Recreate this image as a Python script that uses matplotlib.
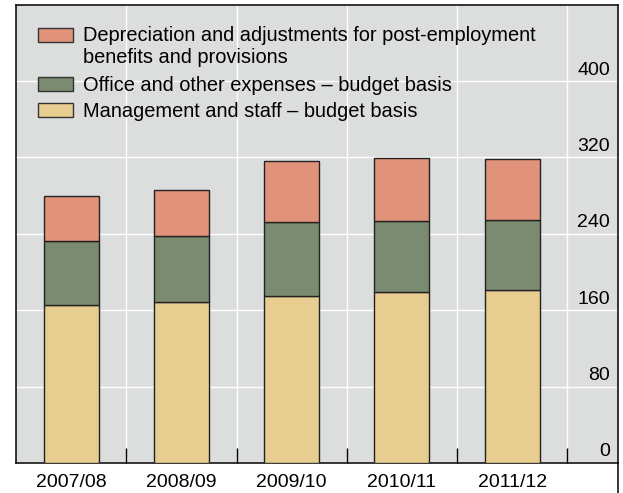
import matplotlib
matplotlib.use("Agg")
import numpy as np
import matplotlib.pyplot as plt
from matplotlib.patches import Rectangle
from matplotlib.lines import Line2D
from matplotlib.transforms import offset_copy

plt.rcParams['font.family'] = ['Liberation Sans', 'DejaVu Sans']

#
# data
#
years = ['2007/08', '2008/09', '2009/10', '2010/11', '2011/12']
staff = [165, 168.5, 175, 179, 181]
office = [67.5, 69, 77.5, 74.5, 73.5]
deprec = [47, 48.5, 64, 66, 64]

labels = ['Depreciation and adjustments for post-employment\nbenefits and provisions',
          'Office and other expenses \u2013 budget basis',
          'Management and staff \u2013 budget basis']
colors = ['#e0937a', '#7b8b71', '#e8cd91']

yticks = [0, 80, 160, 240, 320, 400]

bg = '#dcdede'
fs = 14

fig = plt.figure(figsize=(6.23, 4.93), dpi=100)
ax = fig.add_axes([16/623, 30/493, 602/623, 458.3/493])
ax.set_facecolor(bg)

x = np.arange(len(years))
w = 0.5
bottom = np.zeros(len(years))
# draw stacks from the bottom up
for vals, col in zip([staff, office, deprec], colors[::-1]):
    ax.bar(x, vals, w, bottom=bottom, color=col, edgecolor='#222222',
           linewidth=1.0, zorder=3)
    bottom += np.array(vals)

ax.set_xlim(-0.5, 4.96)
ax.set_ylim(0, 480)

# grid
ax.set_yticks(yticks)
ax.set_xticks(x)
ax.set_xticks(x + 0.5, minor=True)
ax.grid(axis='y', which='major', color='white', linewidth=1.0, zorder=0)
ax.grid(axis='x', which='minor', color='white', linewidth=1.0, zorder=0)
ax.set_axisbelow(True)

ax.tick_params(axis='x', which='major', length=0, pad=8, labelsize=fs)
ax.tick_params(axis='x', which='minor', direction='in', length=10.8,
               width=1.0, color='black')
ax.tick_params(axis='y', which='both', length=0, labelleft=False, labelright=False)
ax.set_xticklabels(years)

for s in ax.spines.values():
    s.set_color('black')
    s.set_linewidth(1.1)

# y labels inside the plot, right side, sitting on the grid lines
tr = offset_copy(ax.get_yaxis_transform(), fig=fig, x=-8, y=6.5, units='dots')
for v in yticks:
    ax.text(1.0, v, str(v), transform=tr, ha='right', va='baseline', fontsize=fs)

# right border continues below the axis
fig.add_artist(Line2D([618/623, 618/623], [0, 30/493], color='black',
                      linewidth=1.1, transform=fig.transFigure))

# legend, drawn by hand so the handle sits on the first line
axw, axh = 602.0, 458.3
rows = [42, 91, 117]   # first-line baselines, px from figure top
line_h = 21
for lab, col, base in zip(labels, colors, rows):
    yb = (463 - base) / axh
    ax.add_patch(Rectangle(((38 - 16) / axw, yb), 35 / axw, 14 / axh,
                           transform=ax.transAxes, facecolor=col,
                           edgecolor='#333333', linewidth=1.0, zorder=4))
    # baseline alignment uses the last line, so shift down for extra lines
    last = base + line_h * lab.count('\n')
    ax.text((83 - 16) / axw, (463 - last) / axh, lab, transform=ax.transAxes,
            ha='left', va='baseline', fontsize=14.4, linespacing=1.2, zorder=4)

fig.savefig('out.png', dpi=100, facecolor='white')
